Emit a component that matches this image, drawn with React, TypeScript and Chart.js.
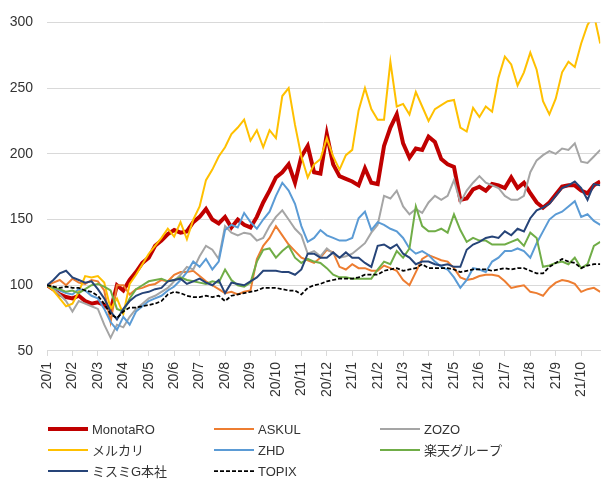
import { useEffect, useRef } from 'react';
import { Chart, registerables } from 'chart.js';

Chart.register(...registerables);

// Month tick labels (one tick per month); data are sampled 4 times per month
const MONTH_LABELS = ['20/1','20/2','20/3','20/4','20/5','20/6','20/7','20/8','20/9','20/10','20/11','20/12','21/1','21/2','21/3','21/4','21/5','21/6','21/7','21/8','21/9','21/10'];
const POINTS_PER_MONTH = 4;

const SERIES_NAMES = ['MonotaRO', 'ASKUL', 'ZOZO', 'メルカリ', 'ZHD', '楽天グループ', 'ミスミG本社', 'TOPIX'];

const MONOTARO = [100,97,93,91,90,92,88,86,87,85, 81,100,96,104,110,117,121,130,134,139, 142,140,141,148,152,158,150,147,152,144, 150,146,144,152,163,172,182,186,192,178, 198,206,186,185,215,192,183,181,179,176, 189,178,177,206,220,230,208,197,204,203, 213,209,196,192,190,165,166,173,175,172, 177,176,174,182,174,178,170,163,159,163, 169,175,176,176,172,170,176,179];
const ASKUL = [100,102,104,100,105,102,101,104,103,96, 72,100,100,93,97,98,100,101,104,103, 108,110,110,111,107,103,100,97,94,95, 93,95,96,120,130,136,145,138,131,126, 121,119,117,121,127,125,114,112,116,113, 113,111,111,115,113,111,104,100,110,120, 123,121,119,118,113,106,104,105,107,108, 108,107,103,98,99,100,95,94,92,98, 102,104,103,101,95,97,98,95];
const ZOZO = [100,97,93,88,80,88,86,84,82,70, 60,70,68,76,82,86,90,92,95,98, 103,108,114,112,122,130,127,120,145,140, 138,140,139,134,136,145,152,157,150,143, 138,124,126,122,128,124,121,122,124,128, 132,140,146,168,166,172,160,154,158,155, 163,168,165,168,180,163,172,178,183,178, 176,174,168,165,165,168,186,195,199,202, 200,204,203,208,194,193,198,203];
const MERCARI = [100,96,90,84,86,95,107,106,107,102, 82,90,78,101,108,116,124,130,136,143, 137,148,135,150,160,180,188,198,205,215, 220,226,210,218,205,218,212,244,250,222, 198,182,192,196,212,198,188,199,203,233, 250,234,226,226,270,236,238,230,247,236, 225,234,237,240,241,220,217,235,228,236, 232,258,274,268,252,262,277,264,240,230, 242,262,270,266,284,298,306,284];
const ZHD = [100,98,96,94,93,97,96,92,90,82, 72,66,76,70,80,84,88,90,92,96, 99,104,110,118,114,120,112,118,142,146, 144,155,148,143,150,156,168,178,172,162, 145,133,136,142,138,136,134,134,136,151, 156,142,148,146,143,141,136,128,124,126, 123,118,114,112,106,98,104,113,112,110, 118,121,126,126,128,126,121,132,141,150, 154,156,160,164,152,154,149,146];
const RAKUTEN = [100,98,97,95,96,94,97,100,101,99, 96,82,80,90,97,100,103,104,105,103, 104,106,104,103,102,101,103,102,112,104, 100,99,102,118,127,128,121,126,130,121, 117,120,118,117,113,108,106,106,105,105, 105,105,112,118,116,126,121,128,160,145, 141,141,143,140,154,142,133,136,134,134, 131,131,131,133,135,130,140,136,114,115, 117,118,116,121,113,116,130,133];
const MISUMI = [100,104,109,111,106,104,102,103,97,90, 80,74,82,88,92,94,95,97,98,103, 104,105,101,103,105,102,100,104,94,102, 101,100,103,106,111,111,111,110,110,108, 112,124,124,121,121,125,121,125,121,121, 117,114,130,131,128,131,124,121,116,118, 118,116,115,116,114,114,127,131,133,136, 137,136,141,138,143,141,151,157,159,162, 168,174,176,179,174,165,177,176];
const TOPIX = [100,99,98,99,98,98,96,95,92,86, 78,75,80,83,83,84,85,86,88,93, 95,94,92,91,91,92,91,92,88,92, 93,94,95,96,98,98,98,97,96,96, 93,98,100,101,103,104,105,105,105,106, 108,108,108,111,112,113,111,112,113,116, 113,113,113,113,112,110,111,112,112,112, 111,112,113,112,113,113,111,109,109,114, 117,120,118,117,113,115,116,116];

const Y_TICKS = [50, 100, 150, 200, 250, 300];

const FONT = "'Liberation Sans', 'Noto Sans CJK JP', sans-serif";

const SERIES = [
  { name: SERIES_NAMES[0], values: MONOTARO, color: '#C00000', width: 4, dash: [] as number[] },
  { name: SERIES_NAMES[1], values: ASKUL, color: '#ED7D31', width: 2, dash: [] as number[] },
  { name: SERIES_NAMES[2], values: ZOZO, color: '#A5A5A5', width: 2, dash: [] as number[] },
  { name: SERIES_NAMES[3], values: MERCARI, color: '#FFC000', width: 2, dash: [] as number[] },
  { name: SERIES_NAMES[4], values: ZHD, color: '#5B9BD5', width: 2, dash: [] as number[] },
  { name: SERIES_NAMES[5], values: RAKUTEN, color: '#70AD47', width: 2, dash: [] as number[] },
  { name: SERIES_NAMES[6], values: MISUMI, color: '#264478', width: 2, dash: [] as number[] },
  { name: SERIES_NAMES[7], values: TOPIX, color: '#000000', width: 1.75, dash: [4, 2] },
];

const gridLegend = {
  id: 'gridLegend',
  afterDraw(chart: any) {
    const ctx = chart.ctx as CanvasRenderingContext2D;
    chart.data.datasets.forEach((ds: any, i: number) => {
      const col = i % 3;
      const row = Math.floor(i / 3);
      const x = 48 + col * 166;
      const y = 429 + row * 21;
      ctx.save();
      ctx.strokeStyle = ds.borderColor;
      ctx.lineWidth = ds.borderWidth;
      ctx.setLineDash(ds.borderDash || []);
      ctx.beginPath();
      ctx.moveTo(x, y);
      ctx.lineTo(x + 40, y);
      ctx.stroke();
      ctx.setLineDash([]);
      ctx.fillStyle = '#333333';
      ctx.font = `13px ${FONT}`;
      ctx.textBaseline = 'middle';
      ctx.textAlign = 'left';
      ctx.fillText(ds.label, x + 44, y + 1);
      ctx.restore();
    });
  },
};

export default function App() {
  const ref = useRef<HTMLCanvasElement>(null);

  useEffect(() => {
    if (!ref.current) return;
    const n = MONOTARO.length;
    const chart = new Chart(ref.current, {
      type: 'line',
      data: {
        datasets: SERIES.map((s, i) => ({
          label: s.name,
          data: s.values.map((v, k) => ({ x: k / POINTS_PER_MONTH, y: v })),
          borderColor: s.color,
          backgroundColor: s.color,
          borderWidth: s.width,
          borderDash: s.dash,
          pointRadius: 0,
          tension: 0,
          fill: false,
          order: SERIES.length - i,
        })),
      },
      options: {
        responsive: false,
        animation: false,
        devicePixelRatio: 1,
        layout: { padding: { left: 8, right: 1, top: 10, bottom: 81 } },
        plugins: {
          legend: { display: false },
          tooltip: { enabled: false },
        },
        scales: {
          x: {
            type: 'linear',
            min: 0,
            max: (n - 1) / POINTS_PER_MONTH,
            grid: { drawOnChartArea: false, drawTicks: true, tickLength: 5, color: '#d9d9d9' },
            border: { display: true, color: '#d9d9d9', width: 1 },
            ticks: {
              stepSize: 1,
              autoSkip: false,
              includeBounds: false,
              minRotation: 90,
              maxRotation: 90,
              padding: 6,
              color: '#333333',
              font: { size: 14, family: FONT },
              callback: (v: any) => (Number.isInteger(v) ? MONTH_LABELS[v] ?? '' : ''),
            },
          },
          y: {
            min: Y_TICKS[0],
            max: Y_TICKS[Y_TICKS.length - 1],
            afterFit: (scale: any) => { scale.width = 39; },
            grid: { drawTicks: false, color: '#d9d9d9', lineWidth: 1 },
            border: { display: false },
            ticks: {
              stepSize: 50,
              padding: 14,
              color: '#333333',
              font: { size: 14, family: FONT },
            },
          },
        },
      },
      plugins: [gridLegend],
    });
    return () => chart.destroy();
  }, []);

  return (
    <div style={{ position: 'absolute', left: 0, top: 0, width: 604, height: 484, background: '#ffffff' }}>
      <canvas ref={ref} width={604} height={484} style={{ display: 'block', width: 604, height: 484 }} />
    </div>
  );
}
